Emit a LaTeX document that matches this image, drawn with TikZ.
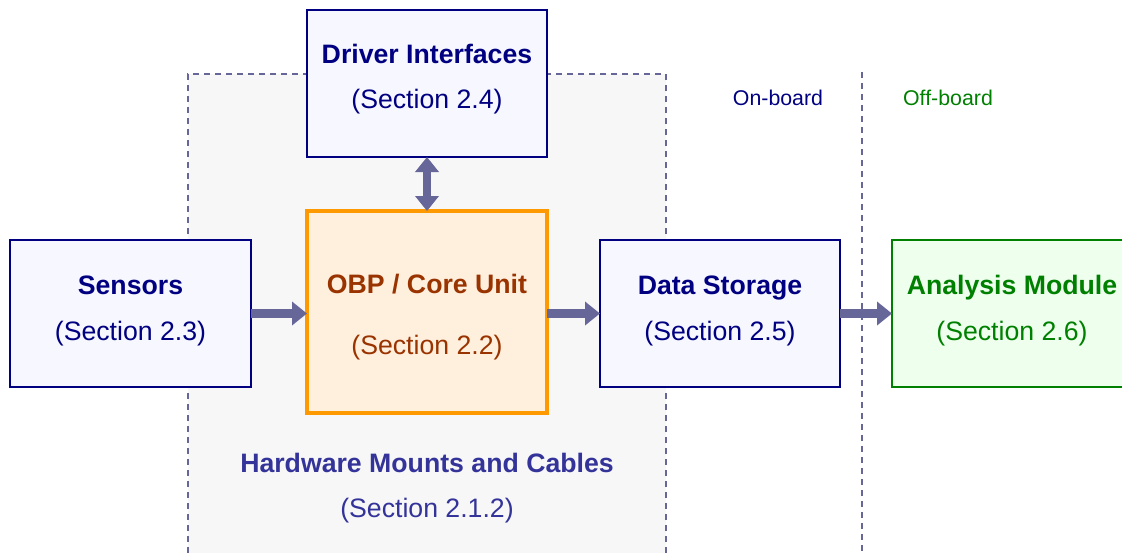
\documentclass[tikz,border=0pt]{standalone}
\usepackage{fontspec}
\setmainfont{Liberation Sans}
\usetikzlibrary{arrows.meta}
\definecolor{navy}{HTML}{000080}
\definecolor{boxfill}{HTML}{F7F8FF}
\definecolor{regionfill}{HTML}{F7F7F7}
\definecolor{dashc}{HTML}{666699}
\definecolor{arrowc}{HTML}{666699}
\definecolor{orangec}{HTML}{FF9900}
\definecolor{orangefill}{HTML}{FFEFDD}
\definecolor{brownc}{HTML}{993300}
\definecolor{greenc}{HTML}{008000}
\definecolor{greenfill}{HTML}{EEFFEE}
\definecolor{hwc}{HTML}{333399}
\begin{document}
\begin{tikzpicture}[x=1pt,y=-1pt,
  box/.style={draw=navy, line width=2pt, fill=boxfill, minimum width=240pt, minimum height=147pt, inner sep=0pt, outer sep=0pt},
  corebox/.style={box, draw=orangec, line width=4pt, fill=orangefill, minimum height=202pt},
  offbox/.style={box, draw=greenc, fill=greenfill},
  regionbox/.style={draw=dashc, dash pattern=on 6pt off 5pt, line width=1.5pt, fill=regionfill, minimum width=478pt, minimum height=496pt, inner sep=0pt, outer sep=0pt},
  ttl/.style={anchor=base, font=\fontsize{26.67}{30}\selectfont\bfseries},
  sub/.style={anchor=base, font=\fontsize{26.67}{30}\selectfont},
  small/.style={anchor=base, font=\fontsize{21.33}{24}\selectfont},
  arr/.style={draw=arrowc, line width=8.5pt, -{Triangle[length=15pt,width=23pt]}},
  darr/.style={draw=arrowc, line width=8.5pt, {Triangle[length=15pt,width=23pt]}-{Triangle[length=15pt,width=23pt]}},
  divline/.style={draw=dashc, dash pattern=on 6pt off 5pt, line width=1.5pt},
]
\useasboundingbox (0,0) rectangle (1122,552);
\clip (0,0) rectangle (1122,552);

% hardware region
\node[regionbox] (region) at (427,322) {};
\node[ttl, text=hwc] (hwt) at (427,472) {Hardware Mounts and Cables};
\node[sub, text=hwc] (hws) at (427,517) {(Section 2.1.2)};

% on/off-board divider
\coordinate (vtop) at (862,72);
\coordinate (vbot) at (862,552);
\draw[divline] (vtop) -- (vbot);
\node[small, text=navy] (onb) at (778,105) {On-board};
\node[small, text=greenc] (offb) at (948,105) {Off-board};

% boxes
\node[box] (drv) at (427,83.5) {};
\node[ttl, text=navy] (drvt) at (427,63) {Driver Interfaces};
\node[sub, text=navy] (drvs) at (427,108) {(Section 2.4)};

\node[box, minimum width=241pt] (sens) at (130.5,313.5) {};
\node[ttl, text=navy] (senst) at (130.5,294) {Sensors};
\node[sub, text=navy] (senss) at (130.5,340) {(Section 2.3)};

\node[corebox] (obp) at (427,312) {};
\node[ttl, text=brownc] (obpt) at (427,293) {OBP / Core Unit};
\node[sub, text=brownc] (obps) at (427,354) {(Section 2.2)};

\node[box] (data) at (720,313.5) {};
\node[ttl, text=navy] (datat) at (720,294) {Data Storage};
\node[sub, text=navy] (datas) at (720,340) {(Section 2.5)};

\node[offbox] (ana) at (1012,313.5) {};
\node[ttl, text=greenc] (anat) at (1012,294) {Analysis Module};
\node[sub, text=greenc] (anas) at (1012,340) {(Section 2.6)};

% connectors
\draw[arr] (sens.east) -- (sens.east -| obp.west);
\draw[arr] (obp.east |- data.west) -- (data.west);
\draw[arr] (data.east) -- (ana.west);
\draw[darr] (drv.south) -- (obp.north);
\end{tikzpicture}
\end{document}
